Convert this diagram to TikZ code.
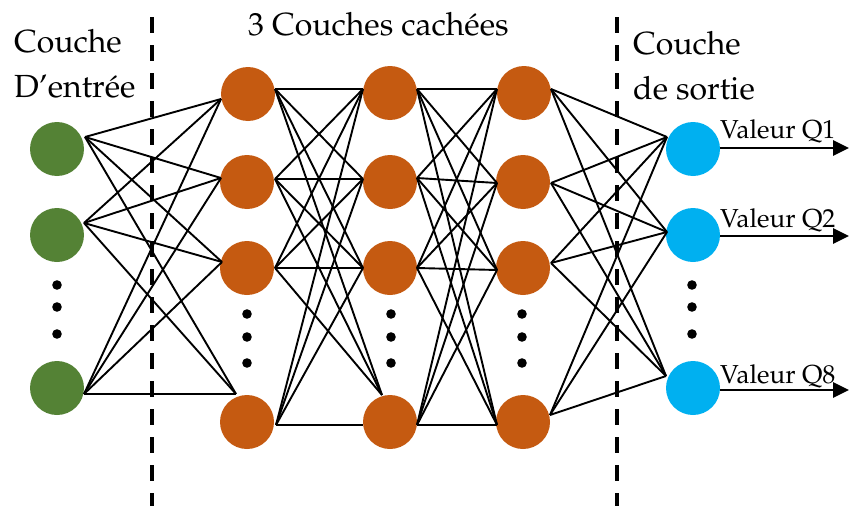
\documentclass[tikz,border=0pt]{standalone}
\usepackage[T1]{fontenc}
\usepackage{mathpazo}
\usetikzlibrary{calc,arrows.meta}
\definecolor{ingreen}{HTML}{548235}
\definecolor{hidorange}{HTML}{C55A11}
\definecolor{outblue}{HTML}{00B0F0}
\begin{document}
\begin{tikzpicture}[x=1pt,y=-1pt,
  neuron/.style={circle,minimum size=54pt,inner sep=0pt,outer sep=0pt,draw=none},
  innode/.style={neuron,fill=ingreen},
  hidnode/.style={neuron,fill=hidorange},
  outnode/.style={neuron,fill=outblue},
  link/.style={line width=1.9pt,black},
  sepline/.style={line width=3.8pt,dash pattern=on 15.5pt off 12.5pt},
  outarrow/.style={line width=2.8pt,-{Triangle[length=16pt,width=15pt]}},
  head/.style={font=\fontsize{32}{45}\selectfont,align=left,inner sep=0pt},
  vlab/.style={font=\fontsize{26}{30}\selectfont,inner sep=0pt,anchor=base west},
  dotmark/.style={fill=black}]
\useasboundingbox (0,0) rectangle (849,506);

% layer separators
\draw[sepline] (152,17) -- (152,506);
\draw[sepline] (617,17) -- (617,506);

% neurons
\foreach \n/\x/\y in {g1/57/149,g2/57/235,g3/57/388}
  \node[innode] (\n) at (\x,\y) {};
\foreach \n/\x/\y in {a1/248/94,a2/247/182,a3/247/268,a4/247/422,
                      b1/390/93,b2/390/182,b3/390/268,b4/390/422,
                      c1/524/93,c2/523/182,c3/523/268,c4/523/422}
  \node[hidnode] (\n) at (\x,\y) {};
\foreach \n/\x/\y in {o1/693/149,o2/693/235,o3/693/388}
  \node[outnode] (\n) at (\x,\y) {};

% connection points on each neuron
\foreach \p/\n/\dx/\dy in {g1r/g1/28/-12,g2r/g2/27/-12,g3r/g3/27/6,
    a1l/a1/-27/5,a2l/a2/-26/-4,a3l/a3/-25/-6,a4l/a4/-11/-28,
    a1r/a1/27/-5,a2r/a2/28/-3,a3r/a3/28/0,a4r/a4/29/3,
    b1l/b1/-27/-4,b2l/b2/-27/-3,b3l/b3/-27/0,b4l/b4/-8/-27,b4h/b4/-27/3,
    b1r/b1/27/-4,b2r/b2/27/-4,b3r/b3/27/0,b4r/b4/27/3,
    c1l/c1/-27/-4,c2l/c2/-26/1,c3l/c3/-26/2,c4l/c4/-26/3,
    c1r/c1/27/-4,c2r/c2/28/1,c3r/c3/28/-5,c4r/c4/27/-7,
    o1l/o1/-26/-12,o2l/o2/-26/-3,o3l/o3/-27/-12}
  \coordinate (\p) at ($(\n)+(\dx,\dy)$);

% input -> hidden 1
\foreach \i in {g1r,g2r,g3r}
  \foreach \j in {a1l,a2l,a3l,a4l}
    \draw[link] (\i) -- (\j);
% hidden 1 -> hidden 2
\foreach \i in {a1r,a2r,a3r}
  \foreach \j in {b1l,b2l,b3l,b4l}
    \draw[link] (\i) -- (\j);
\foreach \j in {b1l,b2l,b3l,b4h}
  \draw[link] (a4r) -- (\j);
% hidden 2 -> hidden 3
\foreach \i in {b1r,b2r,b3r,b4r}
  \foreach \j in {c1l,c2l,c3l,c4l}
    \draw[link] (\i) -- (\j);
% hidden 3 -> output
\foreach \i in {c1r,c2r,c3r,c4r}
  \foreach \j in {o1l,o2l,o3l}
    \draw[link] (\i) -- (\j);

% ellipsis dots
\foreach \x in {57,692}
  \foreach \y in {285,307,334}
    \fill[dotmark] (\x,\y) circle (4.8);
\foreach \x in {247,391,522}
  \foreach \y in {314,337,363}
    \fill[dotmark] (\x,\y) circle (4.8);

% outputs
\coordinate (q1) at (849,148);
\coordinate (q2) at (849,236);
\coordinate (q8) at (849,390);
\draw[outarrow] (o1.east |- q1) -- (q1);
\draw[outarrow] (o2.east |- q2) -- (q2);
\draw[outarrow] (o3.east |- q8) -- (q8);
\node[vlab] (v1) at (720,138) {Valeur Q1};
\node[vlab] (v2) at (720,227) {Valeur Q2};
\node[vlab] (v8) at (720,383) {Valeur Q8};

% layer titles (anchored on the baseline of the last line)
\node[head,anchor=base west] (tin) at (14,97) {Couche\\D'entr\'ee};
\node[head,anchor=base west] (thid) at (248,35) {3 Couches cach\'ees};
\node[head,anchor=base west] (tout) at (633,99) {Couche\\de sortie};
\end{tikzpicture}
\end{document}
